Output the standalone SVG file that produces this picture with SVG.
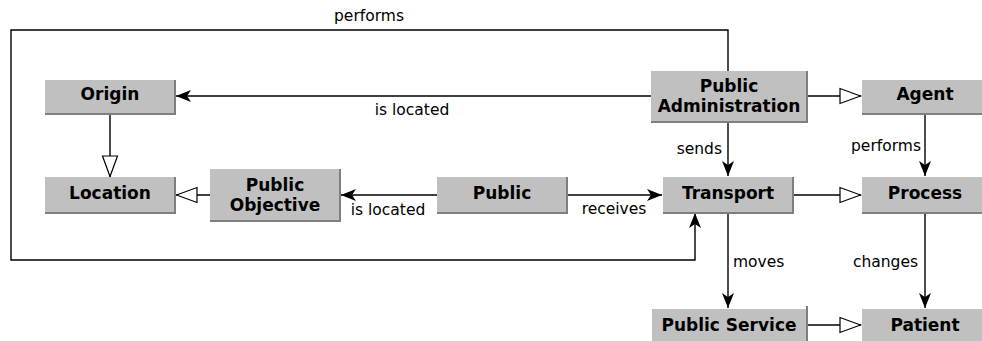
<svg xmlns="http://www.w3.org/2000/svg" width="982" height="341" viewBox="0 0 982 341">
<style>
.box{fill:#c0c0c0}
.sh{fill:none;stroke:#7f7f7f;stroke-width:2}
.nt{font-family:"DejaVu Sans",sans-serif;font-weight:bold;font-size:17px;fill:#000;text-anchor:middle}
.lb{font-family:"DejaVu Sans",sans-serif;font-size:15.5px;fill:#000}
.c{fill:none;stroke:#000;stroke-width:1.4}
.f{marker-end:url(#fa)}
.h{marker-end:url(#ha)}
</style>
<defs>
<marker id="fa" viewBox="-16 -8 17 16" refX="0" refY="0" markerWidth="17" markerHeight="16" markerUnits="userSpaceOnUse" orient="auto">
<path d="M0,0 L-15,-6 L-11,0 L-15,6 Z" fill="#000"/>
</marker>
<marker id="ha" viewBox="-22 -9 23 18" refX="0" refY="0" markerWidth="23" markerHeight="18" markerUnits="userSpaceOnUse" orient="auto">
<path d="M-0.5,0 L-21,-7.5 L-21,7.5 Z" fill="#fff" stroke="#000" stroke-width="1.2"/>
</marker>
</defs>
<g id="connectors">
<path class="c f" d="M728,71 V30 H11 V260 H695 V213"/>
<path class="c f" d="M651,96 H176"/>
<path class="c h" d="M110,114 V177"/>
<path class="c h" d="M210,195 H176"/>
<path class="c f" d="M437,195 H341"/>
<path class="c f" d="M567,195 H662"/>
<path class="c h" d="M807,96 H861"/>
<path class="c f" d="M728,122 V176"/>
<path class="c f" d="M925,114 V176"/>
<path class="c h" d="M793,195 H861"/>
<path class="c f" d="M728,213 V308"/>
<path class="c f" d="M925,213 V308"/>
<path class="c h" d="M807,325 H861"/>
<text class="lb" x="369" y="21" text-anchor="middle">performs</text>
<text class="lb" x="412" y="115" text-anchor="middle">is located</text>
<text class="lb" x="388" y="215" text-anchor="middle">is located</text>
<text class="lb" x="614" y="214" text-anchor="middle">receives</text>
<text class="lb" x="722" y="154" text-anchor="end">sends</text>
<text class="lb" x="921" y="151" text-anchor="end">performs</text>
<text class="lb" x="733" y="267">moves</text>
<text class="lb" x="918" y="267" text-anchor="end">changes</text>
</g>
<g id="origin"><rect class="box" x="45" y="80" width="130" height="34"/><path class="sh" d="M175,80 V114 H45"/><text class="nt" x="110" y="100">Origin</text></g>
<g id="location"><rect class="box" x="45" y="177" width="130" height="36"/><path class="sh" d="M175,177 V213 H45"/><text class="nt" x="110" y="199">Location</text></g>
<g id="public-objective"><rect class="box" x="210" y="169" width="130" height="52"/><path class="sh" d="M340,169 V221 H210"/><text class="nt" x="275" y="191">Public</text><text class="nt" x="275" y="211">Objective</text></g>
<g id="public"><rect class="box" x="437" y="177" width="130" height="36"/><path class="sh" d="M567,177 V213 H437"/><text class="nt" x="502" y="199">Public</text></g>
<g id="public-administration"><rect class="box" x="651" y="71" width="156" height="51"/><path class="sh" d="M807,71 V122 H651"/><text class="nt" x="729" y="92">Public</text><text class="nt" x="729" y="112">Administration</text></g>
<g id="agent"><rect class="box" x="862" y="80" width="130" height="34"/><path class="sh" d="M992,80 V114 H862"/><text class="nt" x="925" y="100">Agent</text></g>
<g id="transport"><rect class="box" x="663" y="177" width="130" height="36"/><path class="sh" d="M793,177 V213 H663"/><text class="nt" x="728" y="199">Transport</text></g>
<g id="process"><rect class="box" x="862" y="177" width="130" height="36"/><path class="sh" d="M992,177 V213 H862"/><text class="nt" x="925" y="199">Process</text></g>
<g id="public-service"><rect class="box" x="652" y="309" width="155" height="34"/><path class="sh" d="M807,306 V343"/><text class="nt" x="729" y="331">Public Service</text></g>
<g id="patient"><rect class="box" x="862" y="309" width="130" height="34"/><text class="nt" x="925" y="331">Patient</text></g>
</svg>
